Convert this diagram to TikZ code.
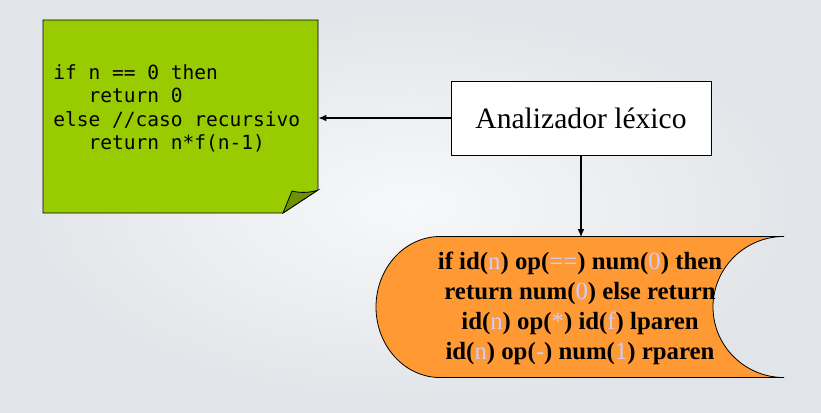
\documentclass[tikz,border=0pt]{standalone}
\usepackage{fontspec}
\setmainfont{Liberation Serif}
\newfontfamily\codefont{DejaVu Sans Mono}
\usetikzlibrary{arrows.meta}
\definecolor{notegreen}{RGB}{153,204,0}
\definecolor{foldgreen}{RGB}{110,146,0}
\definecolor{tokorange}{RGB}{255,153,51}
\definecolor{lexval}{RGB}{204,204,255}
\definecolor{bgedge}{RGB}{225,228,232}
\definecolor{bgmid}{RGB}{247,248,249}
\newcommand{\lv}[1]{\textcolor{lexval}{\mdseries #1}}
\newcommand{\ind}{\phantom{xxx}}

\begin{document}
\begin{tikzpicture}[x=0.75pt,y=-0.75pt]
	\tikzstyle{arrow}=[-{Latex[length=6pt,width=5pt]},line width=1.1pt]
	\tikzstyle{lexbox}=[rectangle,draw=black,line width=0.6pt,fill=white,minimum width=195pt,minimum height=55.5pt,font=\fontsize{22.2pt}{26pt}\selectfont]
	\tikzstyle{code}=[inner sep=0pt,align=left,font=\codefont\fontsize{14.65pt}{17.6pt}\selectfont]
	\tikzstyle{tokens}=[inner sep=0pt,minimum height=105.75pt,align=center,font=\bfseries\fontsize{18.6pt}{22.5pt}\selectfont]
	% background
	\shade[inner color=bgmid,outer color=bgedge] (0,0) rectangle (821,412);
	\useasboundingbox (0,0) rectangle (821,412);
	% source code note
	\node[inner sep=0pt,minimum width=206.25pt,minimum height=144.75pt] (note) at (180.5,116.5) {};
	\filldraw[fill=notegreen,draw=black,line width=0.6pt] (43,20) -- (318,20) -- (318,190) -- (283,213) -- (43,213) -- cycle;
	\filldraw[fill=foldgreen,draw=black,line width=0.6pt] (283,213) -- (292,191) .. controls (300,193) and (309,193) .. (318,190) -- cycle;
	\node[code,anchor=west] (src) at (53,108.5) {if n == 0 then\\ \ind return 0\\else //caso recursivo\\ \ind return n*f(n-1)};
	% lexer
	\node[lexbox] (lex) at (581,118) {Analizador léxico};
	% token stream
	\filldraw[fill=tokorange,draw=black,line width=0.6pt] (440,236.5) -- (784,236.5)
		.. controls (744.8,236.5) and (713,268.1) .. (713,307)
		.. controls (713,345.9) and (744.8,377.5) .. (784,377.5)
		-- (440,377.5)
		.. controls (404.7,377.5) and (376,345.9) .. (376,307)
		.. controls (376,268.1) and (404.7,236.5) .. (440,236.5) -- cycle;
	\node[tokens] (tok) at (580,308) {if id(\lv{n}) op(\lv{==}) num(\lv{0}) then\\return num(\lv{0}) else return\\id(\lv{n}) op(\lv{*}) id(\lv{f}) lparen\\id(\lv{n}) op(\lv{-}) num(\lv{1}) rparen};
	\draw[arrow] (lex.west) -- (lex.west -| note.east);
	\draw[arrow] (lex.south) -- (lex.south |- tok.north);
\end{tikzpicture}
\end{document}
